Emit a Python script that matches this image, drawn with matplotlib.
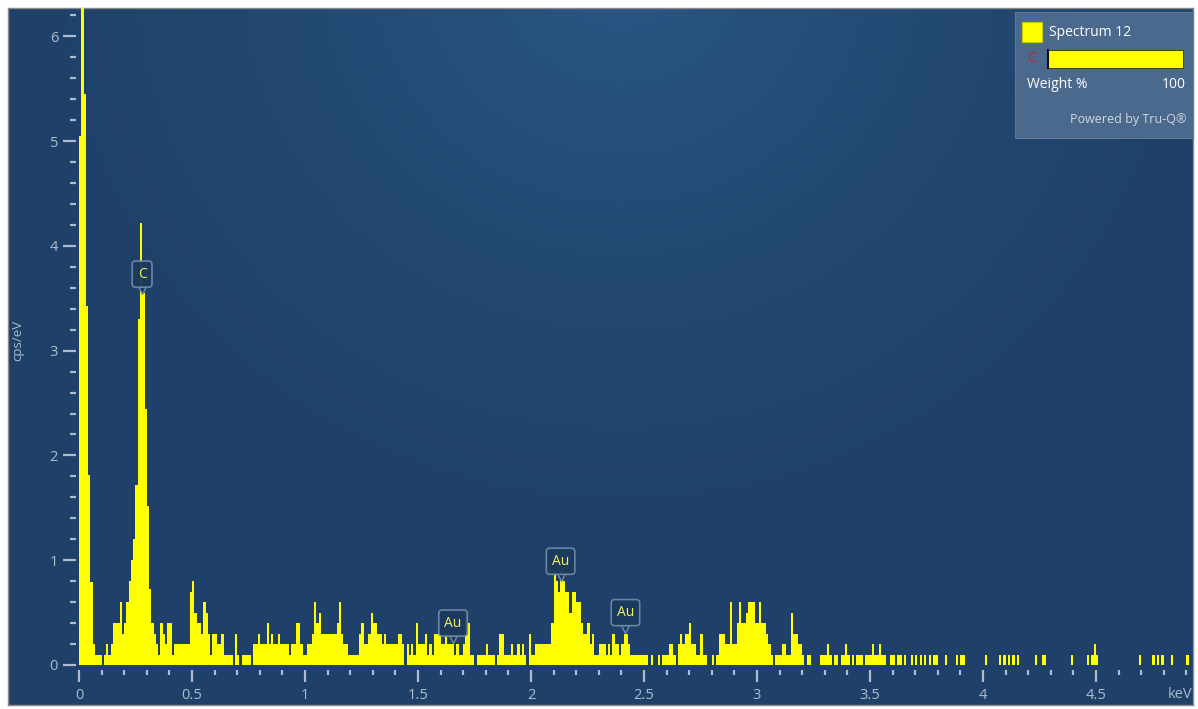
import numpy as np
import matplotlib.pyplot as plt
from matplotlib.colors import LinearSegmentedColormap
from matplotlib.transforms import offset_copy

plt.rcParams['font.family'] = ['Open Sans', 'DejaVu Sans']

# EDS spectrum, 10 eV channels starting at 0 keV (cps/eV)
channel_keV = 0.01
cps = [
    5.05, 6.5, 5.45, 3.43, 1.81, 0.79, 0.2, 0.1, 0.1, 0.1,   # 0.0
    0.0, 0.1, 0.2, 0.1, 0.2, 0.4, 0.4, 0.4, 0.6, 0.3,        # 0.1
    0.4, 0.6, 0.8, 1.0, 1.2, 1.72, 3.3, 4.22, 3.55, 2.44,    # 0.2
    1.52, 0.73, 0.4, 0.3, 0.2, 0.1, 0.4, 0.3, 0.2, 0.4,      # 0.3
    0.4, 0.1, 0.2, 0.2, 0.2, 0.2, 0.2, 0.2, 0.2, 0.7,        # 0.4
    0.8, 0.5, 0.4, 0.4, 0.3, 0.6, 0.5, 0.3, 0.1, 0.3,        # 0.5
    0.3, 0.2, 0.2, 0.3, 0.1, 0.1, 0.1, 0.1, 0.0, 0.3,        # 0.6
    0.1, 0.0, 0.1, 0.1, 0.1, 0.1, 0.0, 0.2, 0.2, 0.3,        # 0.7
    0.2, 0.2, 0.2, 0.4, 0.2, 0.3, 0.2, 0.2, 0.3, 0.2,        # 0.8
    0.2, 0.2, 0.2, 0.1, 0.2, 0.2, 0.4, 0.4, 0.2, 0.1,        # 0.9
    0.1, 0.2, 0.2, 0.3, 0.6, 0.4, 0.5, 0.3, 0.3, 0.3,        # 1.0
    0.3, 0.3, 0.3, 0.3, 0.4, 0.6, 0.3, 0.2, 0.2, 0.1,        # 1.1
    0.1, 0.1, 0.1, 0.1, 0.3, 0.4, 0.2, 0.2, 0.3, 0.5,        # 1.2
    0.4, 0.4, 0.3, 0.3, 0.2, 0.3, 0.2, 0.2, 0.2, 0.2,        # 1.3
    0.2, 0.3, 0.3, 0.2, 0.0, 0.2, 0.1, 0.2, 0.1, 0.4,        # 1.4
    0.2, 0.2, 0.2, 0.3, 0.1, 0.2, 0.1, 0.3, 0.3, 0.3,        # 1.5
    0.2, 0.2, 0.3, 0.2, 0.2, 0.2, 0.1, 0.2, 0.1, 0.1,        # 1.6
    0.2, 0.5, 0.4, 0.1, 0.1, 0.0, 0.1, 0.1, 0.1, 0.1,        # 1.7
    0.2, 0.1, 0.1, 0.1, 0.0, 0.1, 0.3, 0.3, 0.1, 0.1,        # 1.8
    0.1, 0.2, 0.1, 0.1, 0.2, 0.1, 0.2, 0.1, 0.0, 0.3,        # 1.9
    0.1, 0.1, 0.2, 0.2, 0.2, 0.2, 0.2, 0.2, 0.2, 0.4,        # 2.0
    0.9, 0.8, 0.7, 0.9, 0.8, 0.7, 0.7, 0.5, 0.7, 0.7,        # 2.1
    0.6, 0.6, 0.4, 0.3, 0.3, 0.4, 0.2, 0.3, 0.1, 0.1,        # 2.2
    0.2, 0.2, 0.2, 0.1, 0.2, 0.1, 0.3, 0.2, 0.2, 0.1,        # 2.3
    0.2, 0.3, 0.3, 0.2, 0.1, 0.1, 0.1, 0.1, 0.1, 0.1,        # 2.4
    0.1, 0.1, 0.0, 0.1, 0.0, 0.0, 0.1, 0.0, 0.1, 0.1,        # 2.5
    0.1, 0.2, 0.2, 0.1, 0.0, 0.2, 0.3, 0.2, 0.3, 0.3,        # 2.6
    0.4, 0.2, 0.2, 0.1, 0.1, 0.3, 0.1, 0.1, 0.0, 0.0,        # 2.7
    0.1, 0.0, 0.1, 0.3, 0.3, 0.3, 0.2, 0.2, 0.6, 0.2,        # 2.8
    0.2, 0.4, 0.6, 0.4, 0.4, 0.5, 0.6, 0.6, 0.6, 0.4,        # 2.9
    0.4, 0.6, 0.4, 0.4, 0.3, 0.2, 0.1, 0.0, 0.1, 0.1,        # 3.0
    0.1, 0.2, 0.2, 0.1, 0.1, 0.5, 0.3, 0.3, 0.2, 0.2,        # 3.1
    0.1, 0.0, 0.1, 0.1, 0.0, 0.0, 0.0, 0.0, 0.1, 0.1,        # 3.2
    0.1, 0.2, 0.1, 0.0, 0.1, 0.1, 0.0, 0.1, 0.1, 0.2,        # 3.3
    0.1, 0.0, 0.1, 0.0, 0.1, 0.1, 0.1, 0.0, 0.1, 0.1,        # 3.4
    0.1, 0.2, 0.1, 0.1, 0.2, 0.1, 0.1, 0.0, 0.0, 0.1,        # 3.5
    0.1, 0.0, 0.1, 0.1, 0.0, 0.1, 0.0, 0.0, 0.1, 0.0,        # 3.6
    0.1, 0.0, 0.1, 0.0, 0.1, 0.0, 0.1, 0.0, 0.1, 0.1,        # 3.7
    0.0, 0.0, 0.0, 0.1, 0.0, 0.0, 0.0, 0.0, 0.1, 0.0,        # 3.8
    0.1, 0.1, 0.0, 0.0, 0.0, 0.0, 0.0, 0.0, 0.0, 0.0,        # 3.9
    0.0, 0.1, 0.0, 0.0, 0.0, 0.0, 0.0, 0.1, 0.0, 0.1,        # 4.0
    0.0, 0.1, 0.0, 0.1, 0.0, 0.1, 0.0, 0.0, 0.0, 0.0,        # 4.1
    0.0, 0.0, 0.0, 0.1, 0.0, 0.0, 0.1, 0.1, 0.0, 0.0,        # 4.2
    0.0, 0.0, 0.0, 0.0, 0.0, 0.0, 0.0, 0.0, 0.0, 0.1,        # 4.3
    0.0, 0.0, 0.0, 0.0, 0.0, 0.0, 0.1, 0.0, 0.1, 0.2,        # 4.4
    0.1, 0.0, 0.0, 0.0, 0.0, 0.0, 0.0, 0.0, 0.0, 0.0,        # 4.5
    0.0, 0.0, 0.0, 0.0, 0.0, 0.0, 0.0, 0.0, 0.0, 0.1,        # 4.6
    0.0, 0.0, 0.0, 0.0, 0.0, 0.1, 0.0, 0.1, 0.0, 0.1,        # 4.7
    0.0, 0.0, 0.0, 0.1, 0.0, 0.0, 0.0, 0.0, 0.0, 0.0,        # 4.8
    0.1, 0.0, 0.0,                                           # 4.9
]

# identified lines
peak_names = ['C', 'Au', 'Au', 'Au']
peak_keV = [0.279, 1.655, 2.131, 2.418]
label_cps = [3.73, 0.40, 0.99, 0.50]

spectrum_name = 'Spectrum 12'
elements = ['C']
weight_pct = [100]

x_ticks = [0, 0.5, 1, 1.5, 2, 2.5, 3, 3.5, 4, 4.5]
x_tick_labels = ['0', '0.5', '1', '1.5', '2', '2.5', '3', '3.5', '4', '4.5']
y_ticks = [0, 1, 2, 3, 4, 5, 6]

W, H = 1198, 709
TICK = '#aebcce'
YELLOW = '#ffff00'


def px_rect(x0, y0, x1, y1):
    return [x0 / W, 1 - y1 / H, (x1 - x0) / W, (y1 - y0) / H]


fig = plt.figure(figsize=(W / 100, H / 100), dpi=100)
fig.patch.set_facecolor('white')

# radial gradient background, lighter towards the top centre
bg = fig.add_axes(px_rect(8, 8, 1193, 705))
yy, xx = np.mgrid[0:697, 0:1185]
r = np.hypot(xx - 612, (yy + 40) * 1.05)
shade = np.clip(r / 620, 0, 1) ** 0.8
bg_cmap = LinearSegmentedColormap.from_list('bg', ['#295582', '#234a73', '#1f4068'])
bg.imshow(shade, cmap=bg_cmap, aspect='auto', interpolation='bilinear')
bg.set_xticks([])
bg.set_yticks([])
for s in bg.spines.values():
    s.set_color('#8a8a8a')
    s.set_linewidth(1)

ax = fig.add_axes(px_rect(79, 8, 1192, 665))
ax.patch.set_alpha(0)
edges = np.arange(len(cps) + 1) * channel_keV
ax.stairs(cps, edges, fill=True, color=YELLOW, linewidth=0)
ax.set_xlim(0, 4.925)
ax.set_ylim(0, 6.27)

ax.set_xticks(x_ticks)
ax.set_xticklabels(x_tick_labels)
ax.set_xticks(np.arange(0.1, 4.95, 0.1), minor=True)
ax.set_yticks(y_ticks)
ax.set_yticks(np.arange(0.2, 6.25, 0.2), minor=True)

for name, s in ax.spines.items():
    s.set_color('none')
ax.spines['left'].set_position(('outward', 2.2))
ax.spines['bottom'].set_position(('outward', 3.6))

ax.tick_params(axis='y', which='major', length=9.4, width=1.6, color=TICK,
               labelcolor=TICK, labelsize=10.5, pad=3.5)
ax.tick_params(axis='y', which='minor', length=4.3, width=1.6, color=TICK)
ax.tick_params(axis='x', which='major', length=8.6, width=1.6, color=TICK,
               labelcolor=TICK, labelsize=10.5, pad=4.5)
ax.tick_params(axis='x', which='minor', length=3.6, width=1.6, color=TICK)

fig.text(1180 / W, 1 - 695 / H, 'keV', ha='center', va='center',
         color=TICK, fontsize=10.5)
fig.text(18 / W, 1 - 340 / H, 'cps/eV', ha='center', va='center',
         rotation=90, color=TICK, fontsize=9.5)

# peak markers
for name, ek, yc in zip(peak_names, peak_keV, label_cps):
    ax.text(ek, yc, name, ha='center', va='center', color='#f2f25a', fontsize=10,
            bbox=dict(boxstyle='round,pad=0.4,rounding_size=0.25',
                      fc='#1c3a5e', ec='#7089a6', lw=1.2, alpha=0.95))
    tip = offset_copy(ax.transData, fig=fig, x=0, y=-16, units='dots')
    ax.plot([ek], [yc], marker='v', ms=6, mfc='#1c3a5e', mec='#7089a6',
            mew=1.0, transform=tip)

# legend panel
leg = fig.add_axes(px_rect(1015, 12, 1193, 138))
leg.set_xlim(1015, 1193)
leg.set_ylim(138, 12)
leg.set_facecolor('#4b698c')
leg.set_xticks([])
leg.set_yticks([])
for s in leg.spines.values():
    s.set_color('#5d7898')
leg.add_patch(plt.Rectangle((1022, 22), 20, 20, fc=YELLOW, ec='#c8c800', lw=0.8))
leg.text(1049, 32, spectrum_name, va='center', ha='left', color='white', fontsize=10)
leg.text(1027, 59, elements[0], va='center', ha='left', color='#d42020', fontsize=11)
leg.barh([59], [136 * weight_pct[0] / 100], left=1047, height=18,
         color=YELLOW, edgecolor='#303000', linewidth=0.6)
leg.plot([1047.5, 1047.5], [50, 68], color='#101010', lw=1.5)
leg.text(1027, 84, 'Weight %', va='center', ha='left', color='white', fontsize=10)
leg.text(1186, 84, f'{weight_pct[0]}', va='center', ha='right', color='white', fontsize=10)
leg.text(1186, 119, 'Powered by Tru-Q®', va='center', ha='right',
         color='#d0d8e2', fontsize=9)

fig.savefig('out.png', dpi=100, facecolor=fig.get_facecolor())
